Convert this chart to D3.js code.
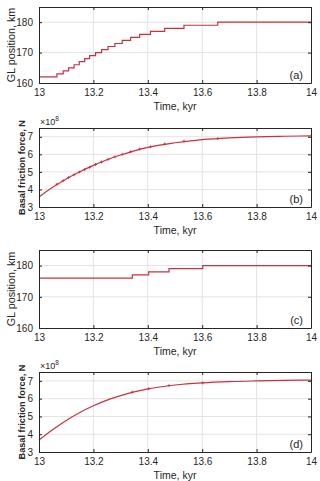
<!DOCTYPE html>
<html>
<head>
<meta charset="utf-8">
<script src="https://cdn.jsdelivr.net/npm/d3@7"></script>
<style>
  body { margin: 0; background: #fff; }
  svg { display: block; font-family: "Liberation Sans", Arial, sans-serif; }
</style>
</head>
<body>
<div id="chart"></div>
<script>
// Data
var timeTicks = [13, 13.2, 13.4, 13.6, 13.8, 14];
var glTicks = [160, 170, 180];
var forceTicks = [3, 4, 5, 6, 7];

// (a) grounding line steps
var stepTimesA = [13, 13.066, 13.089, 13.109, 13.129, 13.148, 13.168, 13.186, 13.208, 13.230,
  13.254, 13.279, 13.306, 13.337, 13.370, 13.410, 13.462, 13.533, 13.657, 14];
var glA = [162, 163, 164, 165, 166, 167, 168, 169, 170, 171,
  172, 173, 174, 175, 176, 177, 178, 179, 180, 180];

// (b) basal friction force (x1e8 N)
var curveTimes = [13, 13.05, 13.1, 13.15, 13.2, 13.25, 13.3, 13.35, 13.4, 13.5, 13.6, 13.7, 13.8, 13.9, 14];
var forceB = [3.57, 4.12, 4.6, 5.01, 5.37, 5.69, 5.96, 6.2, 6.4, 6.66, 6.84, 6.94, 7.0, 7.03, 7.05];
var markTimesB = [13.066, 13.089, 13.109, 13.129, 13.148, 13.168, 13.186, 13.208, 13.230,
  13.254, 13.279, 13.306, 13.337, 13.370, 13.410, 13.462, 13.533, 13.657];
var markForceB = [4.3, 4.5, 4.68, 4.84, 4.99, 5.13, 5.26, 5.42, 5.56,
  5.71, 5.86, 6.0, 6.15, 6.3, 6.43, 6.59, 6.75, 6.9];

// (c) grounding line steps
var stepTimesC = [13, 13.343, 13.403, 13.478, 13.602, 14];
var glC = [176, 177, 178, 179, 180, 180];

// (d) basal friction force (x1e8 N)
var forceD = [3.67, 4.25, 4.77, 5.22, 5.6, 5.92, 6.17, 6.38, 6.55, 6.77, 6.89, 6.96, 7.0, 7.03, 7.04];
var markTimesD = [13.343, 13.403, 13.478, 13.602];
var markForceD = [6.37, 6.56, 6.74, 6.89];

var width = 320, height = 481;
var left = 39, right = 311;
var lineColor = "#c8323f";
var ink = "#262626";

var svg = d3.select("#chart").append("svg")
  .attr("width", width)
  .attr("height", height);

var x = d3.scaleLinear().domain([13, 14]).range([left, right]);

function zip(a, b) {
  return a.map(function (d, i) { return [d, b[i]]; });
}

function panel(opt) {
  var y = d3.scaleLinear().domain(opt.domain).range([opt.bottom, opt.top]);
  var g = svg.append("g");

  // grid
  g.selectAll(".gx").data(timeTicks.slice(1, -1)).enter().append("line")
    .attr("x1", d => x(d)).attr("x2", d => x(d))
    .attr("y1", opt.top).attr("y2", opt.bottom)
    .attr("stroke", "#e3e3e3").attr("stroke-width", 1);
  g.selectAll(".gy").data(opt.yTicks.filter(d => d > opt.domain[0])).enter().append("line")
    .attr("x1", left).attr("x2", right)
    .attr("y1", d => y(d)).attr("y2", d => y(d))
    .attr("stroke", "#e3e3e3").attr("stroke-width", 1);

  // data
  var line = d3.line().x(d => x(d[0])).y(d => y(d[1]));
  if (opt.step) line.curve(d3.curveStepAfter);
  else line.curve(d3.curveMonotoneX);
  g.append("path")
    .attr("d", line(zip(opt.xs, opt.ys)))
    .attr("fill", "none")
    .attr("stroke", lineColor)
    .attr("stroke-width", 1.2);

  if (opt.marks) {
    g.selectAll(".mk").data(zip(opt.marks[0], opt.marks[1])).enter().append("path")
      .attr("d", d => {
        var px = x(d[0]), py = y(d[1]);
        return "M" + (px - 1.5) + "," + py + "H" + (px + 1.5) + "M" + px + "," + (py - 1.5) + "V" + (py + 1.5);
      })
      .attr("stroke", lineColor).attr("stroke-width", 0.8).attr("fill", "none");
  }

  // axes (inward ticks, box)
  var ax = g.append("g").attr("transform", "translate(0," + opt.bottom + ")")
    .call(d3.axisBottom(x).tickValues(timeTicks).tickSizeInner(-3).tickSizeOuter(0)
      .tickPadding(6).tickFormat(d3.format("")));
  var ax2 = g.append("g").attr("transform", "translate(0," + opt.top + ")")
    .call(d3.axisTop(x).tickValues(timeTicks).tickSizeInner(-3).tickSizeOuter(0).tickFormat(""));
  var ay = g.append("g").attr("transform", "translate(" + left + ",0)")
    .call(d3.axisLeft(y).tickValues(opt.yTicks).tickSizeInner(-3).tickSizeOuter(0)
      .tickPadding(6).tickFormat(d3.format("d")));
  var ay2 = g.append("g").attr("transform", "translate(" + right + ",0)")
    .call(d3.axisRight(y).tickValues(opt.yTicks).tickSizeInner(-3).tickSizeOuter(0).tickFormat(""));
  [ax, ax2, ay, ay2].forEach(function (a) {
    a.select(".domain").attr("stroke", ink);
    a.selectAll(".tick line").attr("stroke", ink);
    a.selectAll("text").attr("fill", ink).style("font-size", "10px").style("font-family", "'Liberation Sans', Arial, sans-serif");
  });

  g.append("text")
    .attr("x", (left + right) / 2).attr("y", opt.bottom + 27)
    .attr("text-anchor", "middle").attr("fill", ink)
    .style("font-size", "10.5px")
    .text("Time, kyr");

  g.append("text")
    .attr("transform", "translate(" + opt.labelX + "," + (opt.top + opt.bottom) / 2 + ") rotate(-90)")
    .attr("text-anchor", "middle").attr("fill", ink)
    .style("font-size", opt.labelSize).style("font-weight", opt.labelWeight)
    .text(opt.label);

  if (opt.exponent) {
    var t = g.append("text").attr("x", left + 1).attr("y", opt.top - 3)
      .attr("fill", ink).style("font-size", "9px").text("\u00d710");
    t.append("tspan").attr("dy", -4).style("font-size", "6.5px").text("8");
  }

  g.append("text")
    .attr("x", right - 8).attr("y", opt.bottom - 4)
    .attr("text-anchor", "end").attr("fill", ink)
    .style("font-size", "11px")
    .text(opt.tag);
}

panel({ top: 7, bottom: 83, domain: [160, 185], yTicks: glTicks, xs: stepTimesA, ys: glA, step: true,
  label: "GL position, km", labelX: 15, labelSize: "10.8px", labelWeight: "normal", tag: "(a)" });
panel({ top: 128, bottom: 207, domain: [3, 7.5], yTicks: forceTicks, xs: curveTimes, ys: forceB,
  marks: [markTimesB, markForceB], exponent: true,
  label: "Basal friction force, N", labelX: 25, labelSize: "9.2px", labelWeight: "bold", tag: "(b)" });
panel({ top: 250, bottom: 328, domain: [160, 185], yTicks: glTicks, xs: stepTimesC, ys: glC, step: true,
  label: "GL position, km", labelX: 15, labelSize: "10.8px", labelWeight: "normal", tag: "(c)" });
panel({ top: 372, bottom: 452, domain: [3, 7.5], yTicks: forceTicks, xs: curveTimes, ys: forceD,
  marks: [markTimesD, markForceD], exponent: true,
  label: "Basal friction force, N", labelX: 25, labelSize: "9.2px", labelWeight: "bold", tag: "(d)" });
</script>
</body>
</html>
